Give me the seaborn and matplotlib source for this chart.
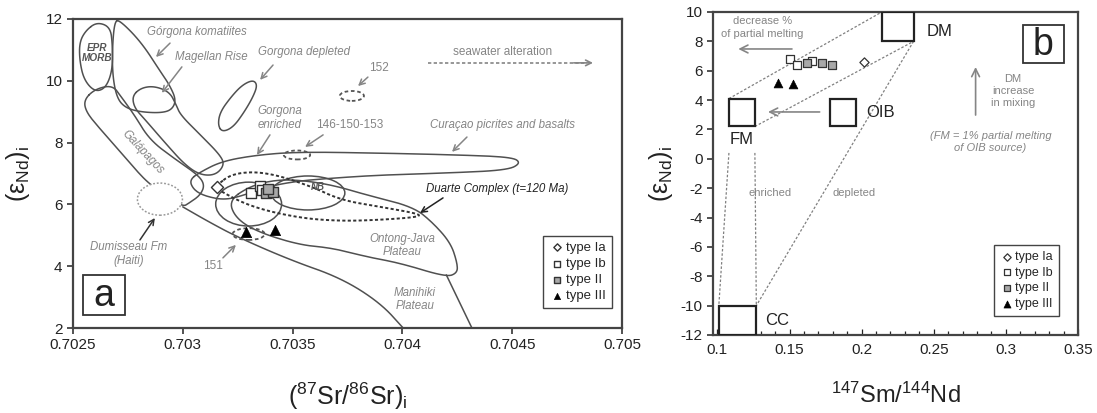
import numpy as np
import pandas as pd
import matplotlib
matplotlib.use('Agg')
import matplotlib.pyplot as plt
import seaborn as sns
from matplotlib.patches import Ellipse, Rectangle

# ---------------- panel a : samples ----------------
SR_IA = [0.703156]
ND_IA_A = [6.56]
SR_IB = [0.70331, 0.70335, 0.70336]
ND_IB_A = [6.37, 6.60, 6.45]
SR_II = [0.70338, 0.70341, 0.70339]
ND_II_A = [6.37, 6.40, 6.50]
SR_III = [0.70329, 0.70342]
ND_III_A = [5.11, 5.17]

# ---------------- panel a : field outlines (Sr ratio, eNd) ----------------
EPR_X = [0.70256, 0.70261, 0.70267, 0.70268, 0.70268, 0.70265, 0.70260, 0.70255, 0.70253, 0.70253]
EPR_Y = [11.64, 11.90, 11.74, 11.16, 10.35, 9.77, 9.64, 10.03, 10.67, 11.26]
KOM_X = [0.70269, 0.70271, 0.70281, 0.70290, 0.70294, 0.70297, 0.70295, 0.70290, 0.70281,
         0.70274, 0.70270, 0.70268, 0.70268]
KOM_Y = [11.90, 11.98, 11.26, 10.28, 9.86, 9.38, 9.06, 8.96, 8.99, 9.12, 9.44, 10.19, 11.16]
MAG_X = [0.70277, 0.70281, 0.70287, 0.70294, 0.70297, 0.70299, 0.70308, 0.70317, 0.70319,
         0.70315, 0.70308, 0.70301, 0.70292, 0.70283, 0.70278]
MAG_Y = [9.51, 9.77, 9.83, 9.64, 9.22, 8.89, 8.25, 7.60, 7.28, 6.95, 6.95, 7.28, 7.99, 8.73, 9.12]
GAL_X = [0.70255, 0.70260, 0.70268, 0.70272, 0.70278, 0.70285, 0.70297, 0.70307, 0.70310,
         0.70308, 0.70303, 0.70300, 0.70292, 0.70284, 0.70274, 0.70262, 0.70256]
GAL_Y = [9.38, 9.73, 9.86, 9.48, 8.89, 8.08, 7.44, 6.95, 6.63, 6.30, 6.05, 5.92, 6.34, 6.69,
         7.50, 8.47, 8.99]
GDEP_X = [0.70318, 0.70316, 0.70317, 0.70322, 0.70327, 0.70332, 0.70334, 0.70332, 0.70328, 0.70323]
GDEP_Y = [8.34, 8.57, 8.99, 9.48, 9.86, 10.03, 9.86, 9.48, 8.99, 8.50]
CUR_X = [0.70303, 0.70308, 0.70318, 0.70334, 0.70353, 0.70390, 0.70426, 0.70450, 0.70454,
         0.70448, 0.70422, 0.70390, 0.70368, 0.70353, 0.70340, 0.70328, 0.70319, 0.70310, 0.70305]
CUR_Y = [6.79, 7.05, 7.40, 7.60, 7.70, 7.66, 7.60, 7.53, 7.34, 7.11, 7.02, 6.95, 6.85, 6.76,
         6.60, 6.30, 6.14, 6.27, 6.47]
OJP_X = [0.70321, 0.70331, 0.70342, 0.70353, 0.70368, 0.70384, 0.70405, 0.70414, 0.70422,
         0.70425, 0.70425, 0.70420, 0.70399, 0.70384, 0.70368, 0.70353, 0.70334, 0.70324]
OJP_Y = [6.14, 6.60, 6.79, 6.79, 6.63, 6.30, 5.92, 5.40, 4.75, 4.10, 3.78, 3.65, 4.10, 4.30,
         4.59, 4.69, 5.11, 5.56]
DUA_X = [0.70315, 0.70323, 0.70338, 0.70358, 0.70372, 0.70390, 0.70408, 0.70407, 0.70390,
         0.70372, 0.70353, 0.70331, 0.70316]
DUA_Y = [6.60, 7.02, 7.05, 6.60, 6.14, 5.92, 5.69, 5.59, 5.50, 5.46, 5.56, 5.92, 6.47]
MAN_X = [0.70300, 0.70312, 0.70325, 0.70349, 0.70372, 0.70390, 0.70401]
MAN_Y = [5.92, 5.43, 4.94, 4.20, 3.62, 2.81, 1.95]
MAN2_X = [0.70420, 0.70432]
MAN2_Y = [3.72, 1.95]

# ellipses: (centre x, centre y, width, height)
NB_ELL = (0.70357, 6.37, 0.000336, 1.10)
INNER_ELL = (0.70330, 6.01, 0.00030, 1.42)
DUM_ELL = (0.702896, 6.17, 0.000205, 1.04)
E152 = (0.70377, 9.51, 0.00011, 0.32)
E146 = (0.70352, 7.60, 0.00012, 0.29)
E151 = (0.70330, 5.04, 0.000146, 0.38)

XT_A = [0.7025, 0.703, 0.7035, 0.704, 0.7045, 0.705]
XT_A_LAB = ['0.7025', '0.703', '0.7035', '0.704', '0.7045', '0.705']
YT_A = [2, 4, 6, 8, 10, 12]

# ---------------- panel b : samples ----------------
SM_IA = [0.2019]
ND_IA_B = [6.59]
SM_IB = [0.1503, 0.1551, 0.1654]
ND_IB_B = [6.80, 6.39, 6.66]
SM_II = [0.1620, 0.1723, 0.1792]
ND_II_B = [6.53, 6.53, 6.39]
SM_III = [0.1420, 0.1523]
ND_III_B = [5.16, 5.10]

# reservoirs: name -> (x0, x1, y0, y1)
BOXES = {'DM': (0.214, 0.236, 8.0, 10.0),
         'OIB': (0.178, 0.196, 2.2, 4.1),
         'FM': (0.108, 0.126, 2.2, 4.1),
         'CC': (0.101, 0.127, -12.0, -10.0)}
MIX_LINES = [((0.108, 4.1), (0.214, 10.0)),
             ((0.126, 2.2), (0.236, 8.0)),
             ((0.236, 8.0), (0.127, -10.0)),
             ((0.108, 0.4), (0.101, -10.0)),
             ((0.126, 0.4), (0.127, -10.0))]
YT_B = list(range(-12, 11, 2))
XT_B = [0.1, 0.15, 0.2, 0.25, 0.3, 0.35]

LINE = '#505050'
GRAY = '#858585'


def chaikin(x, y, closed=True, n=3):
    p = np.column_stack([x, y]).astype(float)
    for _ in range(n):
        a = p if closed else p[:-1]
        q = np.roll(p, -1, 0) if closed else p[1:]
        new = np.empty((2 * len(a), 2))
        new[0::2] = 0.75 * a + 0.25 * q
        new[1::2] = 0.25 * a + 0.75 * q
        if not closed:
            new = np.vstack([p[:1], new, p[-1:]])
        p = new
    if closed:
        p = np.vstack([p, p[:1]])
    return p[:, 0], p[:, 1]


def arrow(ax, tail, head, color=GRAY, lw=1.1, ms=10):
    ax.annotate('', xy=head, xytext=tail,
                arrowprops=dict(arrowstyle='->', color=color, lw=lw, mutation_scale=ms,
                                shrinkA=0, shrinkB=0))


sns.set_theme(style='white', rc={'xtick.bottom': True, 'ytick.left': True})
plt.rcParams['font.family'] = ['Liberation Sans', 'DejaVu Sans']
plt.rcParams['mathtext.default'] = 'regular'
plt.rcParams['axes.unicode_minus'] = False

fig = plt.figure(figsize=(10.97, 4.13), dpi=100)
ax = fig.add_axes([0.0665, 0.2058, 0.5005, 0.7482])
bx = fig.add_axes([0.650, 0.1889, 0.3327, 0.7821])

# ================= panel a =================
for xs, ys in [(EPR_X, EPR_Y), (KOM_X, KOM_Y), (MAG_X, MAG_Y), (GAL_X, GAL_Y),
               (GDEP_X, GDEP_Y), (CUR_X, CUR_Y), (OJP_X, OJP_Y)]:
    sx, sy = chaikin(xs, ys)
    ax.plot(sx, sy, color=LINE, lw=1.1, zorder=2)
for xs, ys in [(MAN_X, MAN_Y), (MAN2_X, MAN2_Y)]:
    sx, sy = chaikin(xs, ys, closed=False)
    ax.plot(sx, sy, color=LINE, lw=1.1, zorder=2)
sx, sy = chaikin(DUA_X, DUA_Y)
ax.plot(sx, sy, color='#333333', lw=1.4, ls=(0, (1.6, 1.2)), zorder=3)

for e in [NB_ELL, INNER_ELL]:
    ax.add_patch(Ellipse(e[:2], e[2], e[3], fill=False, ec=LINE, lw=1.1, zorder=2))
ax.add_patch(Ellipse(DUM_ELL[:2], DUM_ELL[2], DUM_ELL[3], fc='white', ec='#999999',
                     lw=1.1, ls=(0, (1.2, 1.2)), zorder=3))
for e in [E152, E146, E151]:
    ax.add_patch(Ellipse(e[:2], e[2], e[3], fill=False, ec='#555555', lw=1.3,
                         ls=(0, (2, 1.5)), zorder=3))

mk_a = dict(ax=ax, legend=True, zorder=5)
sns.scatterplot(x=SR_IA, y=ND_IA_A, marker='D', s=38, facecolor='white', edgecolor='#333333',
                linewidth=1, label='type Ia', **mk_a)
sns.scatterplot(x=SR_IB, y=ND_IB_A, marker='s', s=60, facecolor='white', edgecolor='#333333',
                linewidth=1, label='type Ib', **mk_a)
sns.scatterplot(x=SR_II, y=ND_II_A, marker='s', s=60, facecolor='#a8a8a8', edgecolor='#333333',
                linewidth=1, label='type II', **mk_a)
sns.scatterplot(x=SR_III, y=ND_III_A, marker='^', s=55, facecolor='black', edgecolor='black',
                linewidth=0.5, label='type III', **mk_a)

it = dict(style='italic', color=GRAY, fontsize=8.3, ha='center', va='center')
ax.text(0.702609, 10.90, 'EPR\nMORB', style='italic', weight='bold', color='#555555',
        fontsize=7.2, ha='center', va='center', linespacing=1.0)
ax.text(0.703065, 11.58, 'Górgona komatiites', **it)
arrow(ax, (0.702942, 11.22), (0.702878, 10.77))
ax.text(0.703128, 10.77, 'Magellan Rise', **it)
arrow(ax, (0.702996, 10.45), (0.702905, 9.61))
ax.text(0.70355, 10.93, 'Gorgona depleted', **it)
arrow(ax, (0.703411, 10.51), (0.703352, 10.03))
ax.text(0.703443, 8.80, 'Gorgona\nenriched', linespacing=1.2, **it)
arrow(ax, (0.703397, 8.25), (0.703338, 7.60))
ax.text(0.702819, 7.70, 'Galápagos', rotation=-47, **it)
ax.text(0.702755, 4.40, 'Dumisseau Fm\n(Haiti)', linespacing=1.25, **it)
arrow(ax, (0.702805, 4.85), (0.702873, 5.56), color='#333333')
ax.text(0.703761, 8.57, '146-150-153', color=GRAY, fontsize=8.5, ha='center', va='center')
arrow(ax, (0.703639, 8.25), (0.703557, 7.86))
ax.text(0.703894, 10.41, '152', color=GRAY, fontsize=8.5, ha='center', va='center')
arrow(ax, (0.703843, 10.12), (0.703798, 9.83))
ax.text(0.703138, 4.00, '151', color=GRAY, fontsize=8.5, ha='center', va='center')
arrow(ax, (0.703183, 4.27), (0.703242, 4.69))
ax.text(0.704458, 10.93, 'seawater alteration', color=GRAY, fontsize=8.5, ha='center',
        va='center')
ax.plot([0.704117, 0.70484], [10.58, 10.58], color=GRAY, lw=1.2, ls=(0, (2, 1.4)))
arrow(ax, (0.70478, 10.58), (0.704868, 10.58), lw=1.2)
ax.text(0.704458, 8.57, 'Curaçao picrites and basalts', **it)
arrow(ax, (0.704294, 8.18), (0.704226, 7.70))
ax.text(0.70443, 6.50, 'Duarte Complex (t=120 Ma)', style='italic', color='#222222',
        fontsize=8.3, ha='center', va='center')
arrow(ax, (0.704185, 6.21), (0.70408, 5.72), color='#222222')
ax.text(0.703616, 6.56, 'NB', style='italic', weight='bold', color='#555555', fontsize=7,
        ha='center', va='center')
ax.text(0.703998, 4.67, 'Ontong-Java\nPlateau', linespacing=1.2, **it)
ax.text(0.704057, 2.92, 'Manihiki\nPlateau', linespacing=1.2, **it)

ax.add_patch(Rectangle((0.018, 0.042), 0.077, 0.130, transform=ax.transAxes, fill=False,
                       ec='#333333', lw=1.3, zorder=6))
ax.text(0.0565, 0.105, 'a', transform=ax.transAxes, fontsize=27, ha='center', va='center',
        color='#222222', zorder=6)

ax.set_xlim(0.7025, 0.705)
ax.set_ylim(2, 12)
ax.set_xticks(XT_A)
ax.set_xticklabels(XT_A_LAB)
ax.set_yticks(YT_A)
ax.set_xlabel(r'$(^{87}$Sr/$^{86}$Sr$)_i$', fontsize=18, labelpad=20, color='#222222')
ax.set_ylabel(r'$(ε_{Nd})_i$', fontsize=18, labelpad=10, color='#222222')
ax.legend(loc='lower right', bbox_to_anchor=(0.993, 0.042), frameon=True, fancybox=False,
          edgecolor='#444444', fontsize=9.5, handletextpad=0.1, handlelength=1.2,
          labelspacing=0.3, borderpad=0.45, markerscale=0.6, framealpha=1)

# ================= panel b =================
for (x0, y0), (x1, y1) in MIX_LINES:
    bx.plot([x0, x1], [y0, y1], color='#808080', lw=0.9, ls=(0, (2, 1.5)), zorder=1)
for name, (x0, x1, y0, y1) in BOXES.items():
    bx.add_patch(Rectangle((x0, y0), x1 - x0, y1 - y0, fc='white', ec='#222222', lw=1.6,
                           zorder=3))
bx.text(0.245, 8.7, 'DM', fontsize=12, ha='left', va='center', color='#222222')
bx.text(0.2035, 3.15, 'OIB', fontsize=12, ha='left', va='center', color='#222222')
bx.text(0.117, 1.3, 'FM', fontsize=12, ha='center', va='center', color='#222222')
bx.text(0.133, -11.0, 'CC', fontsize=12, ha='left', va='center', color='#222222')

mk_b = dict(ax=bx, legend=True, zorder=5)
sns.scatterplot(x=SM_IA, y=ND_IA_B, marker='D', s=22, facecolor='white', edgecolor='#333333',
                linewidth=0.9, label='type Ia', **mk_b)
sns.scatterplot(x=SM_IB, y=ND_IB_B, marker='s', s=32, facecolor='white', edgecolor='#333333',
                linewidth=0.9, label='type Ib', **mk_b)
sns.scatterplot(x=SM_II, y=ND_II_B, marker='s', s=32, facecolor='#a8a8a8', edgecolor='#333333',
                linewidth=0.9, label='type II', **mk_b)
sns.scatterplot(x=SM_III, y=ND_III_B, marker='^', s=40, facecolor='black', edgecolor='black',
                linewidth=0.5, label='type III', **mk_b)

bx.text(0.131, 8.95, 'decrease %\nof partial melting', color=GRAY, fontsize=8, ha='center',
        va='center', linespacing=1.3)
arrow(bx, (0.1517, 7.48), (0.1145, 7.48), lw=1.2, ms=14)
arrow(bx, (0.1709, 3.19), (0.1351, 3.19), lw=1.2, ms=14)
arrow(bx, (0.279, 2.98), (0.279, 6.25), lw=1.2, ms=14)
bx.text(0.305, 4.62, 'DM\nincrease\nin mixing', color=GRAY, fontsize=8, ha='center',
        va='center', linespacing=1.3)
bx.text(0.2894, 1.14, '(FM = 1% partial melting\nof OIB source)', style='italic', color=GRAY,
        fontsize=8, ha='center', va='center', linespacing=1.3)
bx.text(0.1365, -2.33, 'enriched', color=GRAY, fontsize=8, ha='center', va='center')
bx.text(0.195, -2.33, 'depleted', color=GRAY, fontsize=8, ha='center', va='center')

bx.add_patch(Rectangle((0.849, 0.842), 0.113, 0.118, transform=bx.transAxes, fill=False,
                       ec='#333333', lw=1.3, zorder=6))
bx.text(0.905, 0.898, 'b', transform=bx.transAxes, fontsize=27, ha='center', va='center',
        color='#222222', zorder=6)

bx.set_xlim(0.097, 0.35)
bx.set_ylim(-12, 10)
bx.set_xticks(XT_B)
bx.set_xticklabels(['0.1', '0.15', '0.2', '0.25', '0.3', '0.35'])
bx.set_xticks(np.arange(0.1, 0.351, 0.01), minor=True)
bx.set_yticks(YT_B)
bx.set_xlabel(r'$^{147}$Sm/$^{144}$Nd', fontsize=17, labelpad=18, color='#222222')
bx.set_ylabel(r'$(ε_{Nd})_i$', fontsize=18, labelpad=4, color='#222222')
bx.legend(loc='lower right', bbox_to_anchor=(0.964, 0.04), frameon=True, fancybox=False,
          edgecolor='#444444', fontsize=9, handletextpad=0.1, handlelength=1.2,
          labelspacing=0.3, borderpad=0.45, markerscale=0.8, framealpha=1)

for a in (ax, bx):
    for sp in a.spines.values():
        sp.set_color('#444444')
        sp.set_linewidth(1.6)
    a.tick_params(axis='both', labelsize=11, colors='#222222', length=4, width=1.1)
ax.tick_params(direction='out')
bx.tick_params(axis='y', direction='out')
bx.tick_params(axis='x', which='both', direction='in', length=3, width=0.9)
bx.tick_params(axis='x', which='major', length=4, pad=6)

fig.savefig('out.png', dpi=100)
